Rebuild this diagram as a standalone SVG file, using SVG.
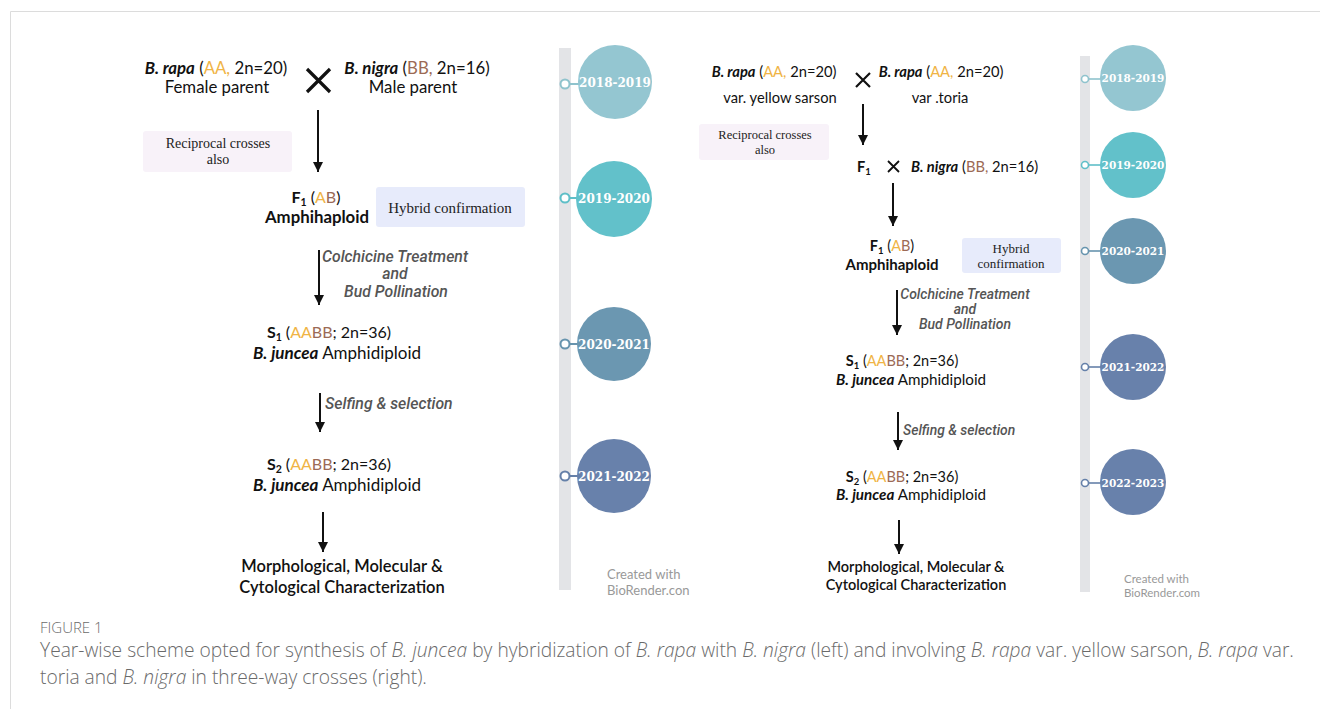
<svg xmlns="http://www.w3.org/2000/svg" width="1320" height="709" viewBox="0 0 1320 709">
<defs>
<style>
.t{font-family:Lato,"Liberation Sans",sans-serif;fill:#111}
.b{font-weight:bold}
.i{font-style:italic}
.a{fill:#f0b445}
.bb{fill:#9c6a55}
.lab{font-family:Roboto,"Liberation Sans",sans-serif;font-style:italic;font-weight:500;fill:#555}
.box{font-family:"Liberation Serif",serif;fill:#222}
.yr{font-family:"DejaVu Serif",serif;font-weight:bold;fill:#fff}
.cw{font-family:Lato,"Liberation Sans",sans-serif;fill:#999}
.cap{font-family:"Open Sans","Liberation Sans",sans-serif;font-weight:300;fill:#6a6a6a}
.ar{stroke:#111;stroke-width:2}
</style>
<marker id="ah" viewBox="0 0 10 10" refX="10" refY="5" markerWidth="5" markerHeight="5" orient="auto" markerUnits="strokeWidth">
<path d="M0,0 L10,5 L0,10 z" fill="#111"/>
</marker>
</defs>
<rect width="1320" height="709" fill="#fff"/>
<path d="M10.5,709 V11.5 H1320" fill="none" stroke="#dcdcdc" stroke-width="1"/>

<!-- LEFT PANEL -->
<g id="l-rapa">
<text class="t" x="216" y="74" font-size="16.8" text-anchor="middle"><tspan class="b i">B. rapa</tspan> (<tspan class="a">AA,</tspan> 2n=20)</text>
<text class="t" x="217" y="93" font-size="16.8" text-anchor="middle">Female parent</text>
</g>
<g id="l-cross"><path d="M307,69 L330,92 M330,69 L307,92" stroke="#111" stroke-width="3.2"/></g>
<g id="l-nigra">
<text class="t" x="417" y="74" font-size="16.8" text-anchor="middle"><tspan class="b i">B. nigra</tspan> (<tspan class="bb">BB,</tspan> 2n=16)</text>
<text class="t" x="413" y="93" font-size="16.8" text-anchor="middle">Male parent</text>
</g>
<g id="l-recip">
<rect x="143" y="131" width="149" height="41" rx="3" fill="#f8f2f9"/>
<text class="box" x="218" y="148" font-size="14" text-anchor="middle">Reciprocal crosses</text>
<text class="box" x="218" y="164" font-size="14" text-anchor="middle">also</text>
</g>
<g id="l-f1">
<text class="t b" x="316" y="203" font-size="16" text-anchor="middle">F<tspan font-size="10.5" dy="3">1</tspan><tspan dy="-3" font-weight="normal"> (<tspan class="a">A</tspan><tspan class="bb">B</tspan>)</tspan></text>
<text class="t b" x="317" y="223" font-size="16.8" text-anchor="middle">Amphihaploid</text>
</g>
<g id="l-hybrid">
<rect x="376" y="187" width="149" height="40" rx="3" fill="#e7ebfb"/>
<text class="box" x="450" y="213" font-size="15" text-anchor="middle">Hybrid confirmation</text>
</g>
<g id="l-s1">
<text class="t" x="329" y="338" font-size="16" text-anchor="middle"><tspan class="b">S<tspan font-size="10.5" dy="3">1</tspan></tspan><tspan dy="-3"> (<tspan class="a">AA</tspan><tspan class="bb">BB</tspan>; 2n=36)</tspan></text>
<text class="t" x="337" y="359" font-size="17" text-anchor="middle"><tspan class="b i">B. juncea</tspan> Amphidiploid</text>
</g>
<g id="l-s2">
<text class="t" x="329" y="470" font-size="16" text-anchor="middle"><tspan class="b">S<tspan font-size="10.5" dy="3">2</tspan></tspan><tspan dy="-3"> (<tspan class="a">AA</tspan><tspan class="bb">BB</tspan>; 2n=36)</tspan></text>
<text class="t" x="337" y="491" font-size="17" text-anchor="middle"><tspan class="b i">B. juncea</tspan> Amphidiploid</text>
</g>
<g id="l-char">
<text class="t" x="342" y="572" font-size="16.5" font-weight="600" text-anchor="middle">Morphological, Molecular &amp;</text>
<text class="t" x="342" y="593" font-size="16.5" font-weight="600" text-anchor="middle">Cytological Characterization</text>
</g>
<g id="l-labels">
<text class="lab" x="395" y="262" font-size="15.8" text-anchor="middle">Colchicine Treatment</text>
<text class="lab" x="395" y="279" font-size="15.8" text-anchor="middle">and</text>
<text class="lab" x="396" y="297" font-size="15.8" text-anchor="middle">Bud Pollination</text>
<text class="lab" x="325" y="409" font-size="15.8">Selfing &amp; selection</text>
</g>

<!-- LEFT TIMELINE -->
<g id="l-timeline">
<rect x="559" y="48" width="12" height="542" fill="#e3e4e7"/>
<g id="l-y1">
<line x1="570" y1="84" x2="580" y2="84" stroke="#8fc3cd" stroke-width="2"/>
<circle cx="615" cy="82" r="37" fill="#94c6d1"/>
<circle cx="565" cy="84" r="4.5" fill="#fff" stroke="#8fc3cd" stroke-width="2"/>
<text class="yr" x="615" y="87" font-size="12" text-anchor="middle">2018-2019</text>
</g>
<g id="l-y2">
<line x1="570" y1="198" x2="580" y2="198" stroke="#5fbfc8" stroke-width="2"/>
<circle cx="614" cy="199" r="38" fill="#62c1ca"/>
<circle cx="565" cy="198" r="4.5" fill="#fff" stroke="#5fbfc8" stroke-width="2"/>
<text class="yr" x="614" y="203" font-size="12" text-anchor="middle">2019-2020</text>
</g>
<g id="l-y3">
<line x1="570" y1="344" x2="580" y2="344" stroke="#6794ae" stroke-width="2"/>
<circle cx="614" cy="344" r="37" fill="#6b97b1"/>
<circle cx="565" cy="344" r="4.5" fill="#fff" stroke="#6794ae" stroke-width="2"/>
<text class="yr" x="614" y="349" font-size="12" text-anchor="middle">2020-2021</text>
</g>
<g id="l-y4">
<line x1="570" y1="476" x2="580" y2="476" stroke="#6580a9" stroke-width="2"/>
<circle cx="614" cy="476" r="37" fill="#6881ab"/>
<circle cx="565" cy="476" r="4.5" fill="#fff" stroke="#6580a9" stroke-width="2"/>
<text class="yr" x="614" y="481" font-size="12" text-anchor="middle">2021-2022</text>
</g>
<text class="cw" x="607" y="579" font-size="13">Created with</text>
<text class="cw" x="607" y="595" font-size="13">BioRender.con</text>
</g>

<!-- RIGHT PANEL -->
<g id="r-rapa1">
<text class="t" x="774" y="77" font-size="14.7" text-anchor="middle"><tspan class="b i">B. rapa</tspan> (<tspan class="a">AA,</tspan> 2n=20)</text>
<text class="t" x="780" y="103" font-size="14.7" text-anchor="middle">var. yellow sarson</text>
</g>
<g id="r-cross1"><path d="M856,73 L870,87 M870,73 L856,87" stroke="#111" stroke-width="2.2"/></g>
<g id="r-rapa2">
<text class="t" x="941" y="77" font-size="14.7" text-anchor="middle"><tspan class="b i">B. rapa</tspan> (<tspan class="a">AA,</tspan> 2n=20)</text>
<text class="t" x="940" y="103" font-size="14.7" text-anchor="middle">var .toria</text>
</g>
<g id="r-recip">
<rect x="699" y="124" width="130" height="36" rx="3" fill="#f8f2f9"/>
<text class="box" x="765" y="139" font-size="12.5" text-anchor="middle">Reciprocal crosses</text>
<text class="box" x="765" y="154" font-size="12.5" text-anchor="middle">also</text>
</g>
<g id="r-f1cross">
<text class="t b" x="857" y="172" font-size="14.5">F<tspan font-size="9.5" dy="3">1</tspan></text>
<path d="M888,161 L899,172 M899,161 L888,172" stroke="#111" stroke-width="1.8"/>
<text class="t" x="911" y="172" font-size="14.7"><tspan class="b i">B. nigra</tspan> (<tspan class="bb">BB,</tspan> 2n=16)</text>
</g>
<g id="r-f1">
<text class="t b" x="892" y="251" font-size="14.5" text-anchor="middle">F<tspan font-size="9.5" dy="3">1</tspan><tspan dy="-3" font-weight="normal"> (<tspan class="a">A</tspan><tspan class="bb">B</tspan>)</tspan></text>
<text class="t b" x="892" y="270" font-size="15" text-anchor="middle">Amphihaploid</text>
</g>
<g id="r-hybrid">
<rect x="962" y="238" width="99" height="35" rx="3" fill="#e7ebfb"/>
<text class="box" x="1011" y="253" font-size="13" text-anchor="middle">Hybrid</text>
<text class="box" x="1011" y="268" font-size="13" text-anchor="middle">confirmation</text>
</g>
<g id="r-s1">
<text class="t" x="902" y="366" font-size="14.5" text-anchor="middle"><tspan class="b">S<tspan font-size="9.5" dy="3">1</tspan></tspan><tspan dy="-3"> (<tspan class="a">AA</tspan><tspan class="bb">BB</tspan>; 2n=36)</tspan></text>
<text class="t" x="911" y="385" font-size="15.2" text-anchor="middle"><tspan class="b i">B. juncea</tspan> Amphidiploid</text>
</g>
<g id="r-s2">
<text class="t" x="902" y="482" font-size="14.5" text-anchor="middle"><tspan class="b">S<tspan font-size="9.5" dy="3">2</tspan></tspan><tspan dy="-3"> (<tspan class="a">AA</tspan><tspan class="bb">BB</tspan>; 2n=36)</tspan></text>
<text class="t" x="911" y="500" font-size="15.2" text-anchor="middle"><tspan class="b i">B. juncea</tspan> Amphidiploid</text>
</g>
<g id="r-char">
<text class="t" x="916" y="572" font-size="14.5" font-weight="600" text-anchor="middle">Morphological, Molecular &amp;</text>
<text class="t" x="916" y="590" font-size="14.5" font-weight="600" text-anchor="middle">Cytological Characterization</text>
</g>
<g id="r-labels">
<text class="lab" x="965" y="299" font-size="14" text-anchor="middle">Colchicine Treatment</text>
<text class="lab" x="965" y="314" font-size="14" text-anchor="middle">and</text>
<text class="lab" x="965" y="329" font-size="14" text-anchor="middle">Bud Pollination</text>
<text class="lab" x="903" y="435" font-size="13.9">Selfing &amp; selection</text>
</g>

<!-- RIGHT TIMELINE -->
<g id="r-timeline">
<rect x="1080" y="56" width="10" height="536" fill="#e3e4e7"/>
<g id="r-y1">
<line x1="1089" y1="79" x2="1101" y2="79" stroke="#8fc3cd" stroke-width="1.6"/>
<circle cx="1133" cy="78" r="33" fill="#94c6d1"/>
<circle cx="1085" cy="79" r="3.5" fill="#fff" stroke="#8fc3cd" stroke-width="1.6"/>
<text class="yr" x="1133" y="82" font-size="10.5" text-anchor="middle">2018-2019</text>
</g>
<g id="r-y2">
<line x1="1089" y1="165" x2="1101" y2="165" stroke="#5fbfc8" stroke-width="1.6"/>
<circle cx="1133" cy="165" r="33" fill="#62c1ca"/>
<circle cx="1085" cy="165" r="3.5" fill="#fff" stroke="#5fbfc8" stroke-width="1.6"/>
<text class="yr" x="1133" y="169" font-size="10.5" text-anchor="middle">2019-2020</text>
</g>
<g id="r-y3">
<line x1="1089" y1="251" x2="1101" y2="251" stroke="#6794ae" stroke-width="1.6"/>
<circle cx="1133" cy="251" r="33" fill="#6b97b1"/>
<circle cx="1085" cy="251" r="3.5" fill="#fff" stroke="#6794ae" stroke-width="1.6"/>
<text class="yr" x="1133" y="255" font-size="10.5" text-anchor="middle">2020-2021</text>
</g>
<g id="r-y4">
<line x1="1089" y1="367" x2="1101" y2="367" stroke="#6580a9" stroke-width="1.6"/>
<circle cx="1133" cy="367" r="33" fill="#6881ab"/>
<circle cx="1085" cy="367" r="3.5" fill="#fff" stroke="#6580a9" stroke-width="1.6"/>
<text class="yr" x="1133" y="371" font-size="10.5" text-anchor="middle">2021-2022</text>
</g>
<g id="r-y5">
<line x1="1089" y1="483" x2="1101" y2="483" stroke="#6580a9" stroke-width="1.6"/>
<circle cx="1133" cy="482" r="33" fill="#6881ab"/>
<circle cx="1085" cy="483" r="3.5" fill="#fff" stroke="#6580a9" stroke-width="1.6"/>
<text class="yr" x="1133" y="487" font-size="10.5" text-anchor="middle">2022-2023</text>
</g>
<text class="cw" x="1124" y="583" font-size="11.5">Created with</text>
<text class="cw" x="1124" y="597" font-size="11.5">BioRender.com</text>
</g>

<!-- CONNECTORS -->
<g id="connectors" fill="none">
<line class="ar" x1="318" y1="110" x2="318" y2="172" marker-end="url(#ah)"/>
<line class="ar" x1="319" y1="250" x2="319" y2="305" marker-end="url(#ah)"/>
<line class="ar" x1="320" y1="393" x2="320" y2="432" marker-end="url(#ah)"/>
<line class="ar" x1="323" y1="512" x2="323" y2="552" marker-end="url(#ah)"/>
<line class="ar" x1="863" y1="104" x2="863" y2="145" marker-end="url(#ah)"/>
<line class="ar" x1="893" y1="183" x2="893" y2="226" marker-end="url(#ah)"/>
<line class="ar" x1="897" y1="290" x2="897" y2="335" marker-end="url(#ah)"/>
<line class="ar" x1="898" y1="412" x2="898" y2="450" marker-end="url(#ah)"/>
<line class="ar" x1="899" y1="520" x2="899" y2="554" marker-end="url(#ah)"/>
</g>

<!-- CAPTION -->
<g id="caption">
<text class="cap" x="40" y="633" font-size="15">FIGURE 1</text>
<text class="cap" x="40" y="657" font-size="19.2">Year-wise scheme opted for synthesis of <tspan font-style="italic">B. juncea</tspan> by hybridization of <tspan font-style="italic">B. rapa</tspan> with <tspan font-style="italic">B. nigra</tspan> (left) and involving <tspan font-style="italic">B. rapa</tspan> var. yellow sarson, <tspan font-style="italic">B. rapa</tspan> var.</text>
<text class="cap" x="40" y="684" font-size="19.2">toria and <tspan font-style="italic">B. nigra</tspan> in three-way crosses (right).</text>
</g>
</svg>
